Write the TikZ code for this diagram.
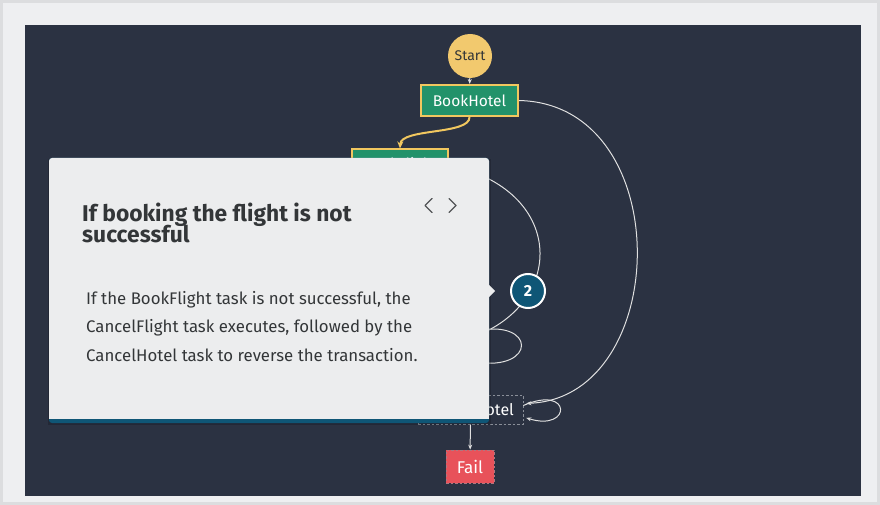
\documentclass[tikz,border=0pt]{standalone}
\usepackage{fontspec}
\setmainfont{Fira Sans}
\usetikzlibrary{arrows.meta}
\definecolor{outerbg}{HTML}{EEEFF1}
\definecolor{edgegrey}{HTML}{DCDDDF}
\definecolor{panel}{HTML}{2B3242}
\definecolor{startyel}{HTML}{F2C96E}
\definecolor{taskgreen}{HTML}{22926A}
\definecolor{hlyellow}{HTML}{F1C75F}
\definecolor{failred}{HTML}{E8525A}
\definecolor{popbg}{HTML}{ECEDEE}
\definecolor{poptext}{HTML}{333638}
\definecolor{tealband}{HTML}{0F5676}
\definecolor{dashgrey}{HTML}{8A8F99}
\tikzset{
  startnode/.style={circle, fill=startyel, minimum size=44pt, inner sep=0pt, text=poptext, font=\fontsize{14}{15}\selectfont},
  task/.style={rectangle, inner sep=0pt, text=white, font=\fontsize{15.5}{17}\selectfont},
  hltask/.style={task, fill=taskgreen, draw=hlyellow, line width=2pt},
  dashtask/.style={task, draw=dashgrey, dash pattern=on 2.5pt off 2pt, line width=0.7pt},
  edge/.style={draw=white!88!black, line width=1pt, -{Stealth[length=5pt,width=4pt]}},
  plainedge/.style={draw=white!88!black, line width=1pt},
  yedge/.style={draw=hlyellow, line width=2pt, -{Stealth[length=7pt,width=6pt]}},
  badge/.style={circle, fill=tealband, draw=white, line width=2pt, minimum size=34pt, inner sep=0pt, text=white, font=\bfseries\fontsize{16}{17}\selectfont},
  titletext/.style={anchor=base west, inner sep=0pt, text=poptext, font=\bfseries\fontsize{22.8}{24}\selectfont},
  bodytext/.style={anchor=base west, inner sep=0pt, text=poptext, font=\fontsize{16.8}{18}\selectfont},
  chevron/.style={draw=poptext!85, line width=1.4pt, line cap=round, line join=round}
}
\begin{document}
\begin{tikzpicture}[x=1pt,y=-1pt]
\useasboundingbox (0,0) rectangle (880,505);
\fill[outerbg] (0,0) rectangle (880,505);
\draw[edgegrey, line width=3pt] (1.5,1.5) rectangle (878.5,503.5);
\fill[panel] (25,25) rectangle (861,496);

% nodes
\node[startnode] (start) at (470,56) {Start};
\node[hltask, minimum width=97pt, minimum height=31pt] (bookhotel) at (469.5,100.5) {BookHotel};
\node[hltask, minimum width=96pt, minimum height=31pt] (bookflight) at (400,165) {BookFlight};
\node[dashtask, minimum width=105pt, minimum height=29pt, font=\fontsize{16}{17}\selectfont] (cancelhotel) at (470.5,409.5) {CancelHotel};
\node[task, fill=failred, draw=dashgrey!60!failred, dash pattern=on 2.5pt off 2pt, line width=0.7pt, minimum width=48pt, minimum height=33pt, font=\fontsize{17}{18}\selectfont] (fail) at (470,466.5) {Fail};
\coordinate (cancelflight) at (478,335);

% connectors
\draw[edge] (start) -- (bookhotel);
\draw[yedge] (bookhotel.south) .. controls (470,135) and (401,128) .. (bookflight.north);
\draw[edge, shorten >=3pt] (bookhotel.east) .. controls (678,104) and (672,398) .. ([yshift=6pt]cancelhotel.east);
\draw[edge, shorten >=3pt] ([yshift=4pt]cancelhotel.east) .. controls (572,384) and (572,432) .. ([yshift=-7.5pt]cancelhotel.east);
\draw[plainedge] (bookflight.east) .. controls (565,190) and (565,300) .. (cancelflight);
\draw[plainedge] (475,331) .. controls (537,318) and (537,372) .. (475,362);
\draw[edge] (cancelhotel) -- (fail);

\node[badge] (badge2) at (528,291) {2};

% popup
\fill[black, opacity=0.18] (48,159) rectangle (491,425);
\fill[tealband, rounded corners=3pt] (49,158) rectangle (489,423);
\fill[popbg, rounded corners=3pt] (49,158) rectangle (489,418.5);
\fill[popbg] (49,412) rectangle (489,418.5);
\fill[popbg] (488,284) -- (495,291) -- (488,298) -- cycle;

\draw[chevron] (432,198.5) -- (425,205.5) -- (432,212.5);
\draw[chevron] (449,198.5) -- (456,205.5) -- (449,212.5);

\node[titletext] (title1) at (82,221) {If booking the flight is not};
\node[titletext] (title2) at (82,242) {successful};
\node[bodytext] (body1) at (86,304.3) {If the BookFlight task is not successful, the};
\node[bodytext] (body2) at (86,332.7) {CancelFlight task executes, followed by the};
\node[bodytext] (body3) at (86,361) {CancelHotel task to reverse the transaction.};
\end{tikzpicture}
\end{document}
